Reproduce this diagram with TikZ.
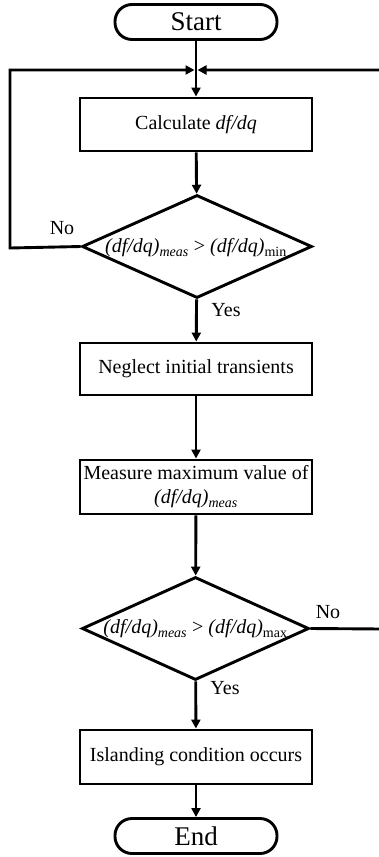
\documentclass[tikz,border=0pt]{standalone}
\usepackage{fontspec}
\setmainfont{Liberation Serif}
\usetikzlibrary{shapes.geometric,arrows.meta}
\begin{document}
\begin{tikzpicture}[x=1pt,y=1pt,line width=2.9pt,
  arr/.style={-{Triangle[length=9pt,width=9pt]}},
  procbox/.style={draw,rectangle,minimum width=232pt,inner sep=0pt,align=center,font=\fontsize{20}{24}\selectfont},
  termbox/.style={draw,rectangle,rounded corners=17pt,minimum width=162pt,minimum height=35pt,inner sep=0pt,font=\fontsize{27}{28}\selectfont},
  decision/.style={draw,diamond,inner sep=0pt},
  lbl/.style={inner sep=0pt,font=\fontsize{20}{22}\selectfont},
  dtext/.style={inner sep=0pt,font=\fontsize{20}{22}\selectfont}]
\useasboundingbox (0,0) rectangle (378,-857);
\node[termbox] (start) at (196,-22) {Start};
\node[procbox,minimum height=53pt] (calc) at (196,-124.5) {Calculate \textit{df/dq}};
\node[decision,minimum width=230pt,minimum height=103pt] (d1) at (197,-246.5) {};
\node[dtext] (t1) at (196,-248) {\textit{(df/dq)}\textsubscript{\textit{meas}} > \textit{(df/dq)}\textsubscript{min}};
\node[procbox,minimum height=52pt] (neg) at (196,-369) {Neglect initial transients};
\node[procbox,minimum height=54pt] (meas) at (196,-487) {Measure maximum value of\\\textit{(df/dq)}\textsubscript{\textit{meas}}};
\node[decision,minimum width=227pt,minimum height=103pt] (d2) at (195.5,-628.5) {};
\node[dtext] (t2) at (195.5,-629) {\textit{(df/dq)}\textsubscript{\textit{meas}} > \textit{(df/dq)}\textsubscript{max}};
\node[procbox,minimum height=54pt] (isl) at (196,-757) {Islanding condition occurs};
\node[termbox] (end) at (196,-836) {End};
\node[lbl] (no1) at (62,-228) {No};
\node[lbl] (yes1) at (226,-310) {Yes};
\node[lbl] (no2) at (328,-612) {No};
\node[lbl] (yes2) at (225,-688) {Yes};
\coordinate (m) at (196,-70);
\coordinate (ml) at (10,-70);
\coordinate (dl) at (10,-248);
\coordinate (mr) at (382,-70);
\coordinate (dr) at (382,-629);
\draw[arr] (start) -- (calc);
\draw[arr] (calc) -- (d1);
\draw[arr] (d1) -- (neg);
\draw[arr] (neg) -- (meas);
\draw[arr] (meas) -- (d2);
\draw[arr] (d2) -- (isl);
\draw[arr] (isl) -- (end);
\draw[arr] (d1.west) -- (dl) -- (ml) -- ([xshift=-1.5pt]m);
\draw[arr] (d2.east) -- (dr) -- (mr) -- ([xshift=1.5pt]m);
\end{tikzpicture}
\end{document}
